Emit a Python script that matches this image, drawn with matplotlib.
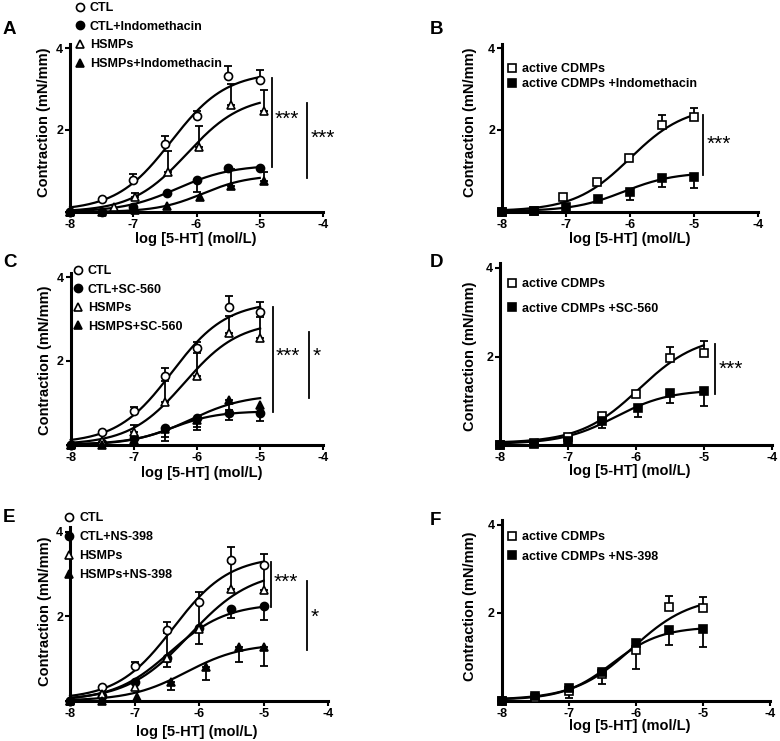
import numpy as np
import matplotlib
matplotlib.use("Agg")
import matplotlib.pyplot as plt

plt.rcParams['font.family'] = ['Liberation Sans', 'DejaVu Sans']
plt.rcParams['font.weight'] = 'bold'

# shared axis data
log_conc = [-8, -7.5, -7, -6.5, -6, -5.5, -5]
x_ticks = [-8, -7, -6, -5, -4]
x_tick_labels = ['-8', '-7', '-6', '-5', '-4']
y_ticks = [0, 2, 4]
y_tick_labels = ['', '2', '4']
x_label = 'log [5-HT] (mol/L)'
y_label = 'Contraction (mN/mm)'

# fit parameters: [bottom, top, logEC50, hill slope]
# ---- panel A ----
A_ctl_x = log_conc
A_ctl_y = [0, 0.31, 0.78, 1.66, 2.34, 3.32, 3.22]
A_ctl_up = [0, 0, 0.15, 0.19, 0.12, 0.24, 0.24]
A_ctl_dn = [0, 0, 0, 0, 0, 0, 0]
A_ctl_fit = [0.03, 3.42, -6.4, 1.0]
A_ctli_x = [-8, -7.5, -7, -6.47, -5.99, -5.5, -4.99]
A_ctli_y = [0, 0, 0.11, 0.46, 0.78, 1.08, 1.08]
A_ctli_up = [0, 0, 0, 0, 0, 0, 0]
A_ctli_dn = [0, 0, 0, 0, 0.28, 0, 0]
A_ctli_fit = [0.0, 1.15, -6.3, 1.0]
A_hs_x = [-8, -7.3, -6.97, -6.45, -5.96, -5.45, -4.93]
A_hs_y = [0, 0.13, 0.36, 0.98, 1.59, 2.61, 2.46]
A_hs_up = [0, 0, 0.11, 0.52, 0.51, 0.5, 0.52]
A_hs_dn = [0, 0, 0, 0, 0, 0, 0]
A_hs_fit = [0.0, 2.85, -6.15, 1.0]
A_hsi_x = [-8, -7.5, -6.97, -6.47, -5.95, -5.45, -4.93]
A_hsi_y = [0, 0, 0.05, 0.15, 0.37, 0.64, 0.76]
A_hsi_up = [0, 0, 0, 0, 0, 0.41, 0.21]
A_hsi_dn = [0, 0, 0, 0, 0, 0, 0]
A_hsi_fit = [0.0, 0.9, -5.9, 1.2]
A_labels = ['CTL', 'CTL+Indomethacin', 'HSMPs', 'HSMPs+Indomethacin']
A_sig_x = [-4.81, -4.25]
A_sig_top = [3.27, 2.66]
A_sig_bot = [1.10, 0.83]
A_sig_text = ['***', '***']
A_sig_ty = [2.25, 1.79]

# ---- panel B ----
B_cd_x = [-8, -7.5, -7.05, -6.51, -6.01, -5.5, -5.0]
B_cd_y = [0, 0.03, 0.37, 0.72, 1.31, 2.12, 2.31]
B_cd_up = [0, 0, 0, 0, 0, 0.25, 0.23]
B_cd_dn = [0, 0, 0, 0, 0, 0, 0]
B_cd_fit = [0.02, 2.6, -6.0, 1.0]
B_cdi_x = log_conc
B_cdi_y = [0, 0.02, 0.13, 0.31, 0.5, 0.82, 0.85]
B_cdi_up = [0, 0, 0, 0, 0, 0, 0]
B_cdi_dn = [0, 0, 0, 0, 0.21, 0.2, 0.26]
B_cdi_fit = [0.02, 0.97, -6.1, 1.1]
B_labels = ['active CDMPs', 'active CDMPs +Indomethacin']
B_sig_x = [-4.86]
B_sig_top = [2.37]
B_sig_bot = [0.9]
B_sig_text = ['***']
B_sig_ty = [1.64]

# ---- panel C ----
C_ctl_x = log_conc
C_ctl_y = [0, 0.31, 0.81, 1.64, 2.3, 3.28, 3.17]
C_ctl_up = [0, 0, 0.1, 0.18, 0.16, 0.27, 0.24]
C_ctl_dn = [0, 0, 0, 0, 0, 0, 0]
C_ctl_fit = [0.03, 3.42, -6.4, 1.0]
C_ctls_x = log_conc
C_ctls_y = [0, 0.05, 0.17, 0.41, 0.64, 0.76, 0.75]
C_ctls_up = [0, 0, 0, 0, 0, 0, 0]
C_ctls_dn = [0, 0, 0, 0.22, 0.21, 0.16, 0.18]
C_ctls_fit = [0.0, 0.8, -6.4, 1.2]
C_hs_x = log_conc
C_hs_y = [0, 0.08, 0.31, 1.03, 1.64, 2.67, 2.54]
C_hs_up = [0, 0, 0.16, 0.5, 0.55, 0.4, 0.5]
C_hs_dn = [0, 0, 0, 0, 0, 0, 0]
C_hs_fit = [0.0, 2.95, -6.2, 1.0]
C_hss_x = log_conc
C_hss_y = [0, 0, 0.12, 0.38, 0.6, 1.07, 0.95]
C_hss_up = [0, 0, 0, 0, 0, 0, 0]
C_hss_dn = [0, 0, 0, 0.3, 0.25, 0.25, 0]
C_hss_fit = [0.0, 1.2, -6.1, 1.0]
C_labels = ['CTL', 'CTL+SC-560', 'HSMPs', 'HSMPS+SC-560']
C_sig_x = [-4.80, -4.22]
C_sig_top = [3.29, 2.69]
C_sig_bot = [0.78, 1.12]
C_sig_text = ['***', '*']
C_sig_ty = [2.1, 2.1]

# ---- panel D ----
D_cd_x = log_conc
D_cd_y = [0, 0.05, 0.19, 0.66, 1.16, 1.96, 2.09]
D_cd_up = [0, 0, 0, 0, 0, 0.26, 0.27]
D_cd_dn = [0, 0, 0, 0, 0, 0, 0]
D_cd_fit = [0.05, 2.5, -5.95, 1.0]
D_cds_x = [-8, -7.5, -7, -6.5, -5.97, -5.5, -5]
D_cds_y = [0, 0.04, 0.1, 0.55, 0.83, 1.17, 1.22]
D_cds_up = [0, 0, 0, 0, 0, 0, 0]
D_cds_dn = [0, 0, 0, 0.17, 0.19, 0.21, 0.34]
D_cds_fit = [0.03, 1.25, -6.3, 1.1]
D_labels = ['active CDMPs', 'active CDMPs +SC-560']
D_sig_x = [-4.83]
D_sig_top = [2.29]
D_sig_bot = [1.16]
D_sig_text = ['***']
D_sig_ty = [1.72]

# ---- panel E ----
E_ctl_x = log_conc
E_ctl_y = [0, 0.32, 0.82, 1.67, 2.34, 3.33, 3.21]
E_ctl_up = [0, 0, 0.09, 0.2, 0.22, 0.3, 0.27]
E_ctl_dn = [0, 0, 0, 0, 0, 0, 0]
E_ctl_fit = [0.03, 3.42, -6.4, 1.0]
E_ctln_x = log_conc
E_ctln_y = [0, 0.1, 0.45, 1.02, 1.72, 2.18, 2.24]
E_ctln_up = [0, 0, 0, 0, 0, 0, 0]
E_ctln_dn = [0, 0, 0, 0, 0, 0.23, 0.33]
E_ctln_fit = [0.0, 2.3, -6.45, 1.0]
E_hs_x = log_conc
E_hs_y = [0, 0.16, 0.32, 1.0, 1.69, 2.63, 2.62]
E_hs_up = [0, 0, 0, 0.6, 0.6, 0.65, 0.55]
E_hs_dn = [0, 0, 0, 0.2, 0.35, 0, 0]
E_hs_fit = [0.0, 3.1, -6.15, 0.9]
E_hsn_x = [-8, -7.5, -6.97, -6.43, -5.9, -5.39, -4.99]
E_hsn_y = [0, 0, 0.09, 0.45, 0.8, 1.28, 1.28]
E_hsn_up = [0, 0, 0, 0, 0, 0, 0]
E_hsn_dn = [0, 0, 0, 0.2, 0.31, 0.36, 0.46]
E_hsn_fit = [0.0, 1.35, -6.2, 1.0]
E_labels = ['CTL', 'CTL+NS-398', 'HSMPs', 'HSMPs+NS-398']
E_sig_x = [-4.89, -4.33]
E_sig_top = [3.27, 2.84]
E_sig_bot = [2.21, 1.2]
E_sig_text = ['***', '*']
E_sig_ty = [2.8, 1.97]

# ---- panel F ----
F_cd_x = log_conc
F_cd_y = [0, 0.06, 0.23, 0.61, 1.15, 2.14, 2.1]
F_cd_up = [0, 0, 0, 0, 0, 0.24, 0.25]
F_cd_dn = [0, 0, 0, 0.23, 0.44, 0, 0]
F_cd_fit = [0.02, 2.38, -6.05, 1.0]
F_cdn_x = log_conc
F_cdn_y = [0, 0.11, 0.3, 0.66, 1.32, 1.61, 1.63]
F_cdn_up = [0, 0, 0, 0, 0, 0, 0]
F_cdn_dn = [0, 0, 0.24, 0, 0, 0.34, 0.4]
F_cdn_fit = [0.02, 1.68, -6.35, 1.2]
F_labels = ['active CDMPs', 'active CDMPs +NS-398']


def hill(x, p):
    bottom, top, ec50, n = p
    return bottom + (top - bottom) / (1 + 10 ** ((ec50 - x) * n))


def draw_series(ax, x, y, up, dn, fit, marker, filled, label):
    xs = np.linspace(-8, -5, 200)
    ax.plot(xs, hill(xs, fit), color='k', lw=1.6, zorder=2, clip_on=False)
    x = np.array(x, dtype=float)
    y = np.array(y, dtype=float)
    up = np.array(up, dtype=float)
    dn = np.array(dn, dtype=float)
    for err, sign in [(up, 1), (dn, -1)]:
        m = err > 0
        if m.any():
            z = np.zeros(m.sum())
            yerr = [z, err[m]] if sign > 0 else [err[m], z]
            ax.errorbar(x[m], y[m], yerr=yerr, fmt='none', ecolor='k',
                        elinewidth=1.3, capsize=3, capthick=1.3, zorder=3)
    ms = 5.8 if marker != 's' else 5.4
    h, = ax.plot(x, y, linestyle='none', marker=marker, ms=ms,
                 mfc='k' if filled else 'white', mec='k', mew=1.2,
                 label=label, zorder=4, clip_on=False)
    return h


def px_rect(left, right, bottom, top):
    return [left / 780, 1 - bottom / 741, (right - left) / 780, (bottom - top) / 741]


fig = plt.figure(figsize=(7.8, 7.41), dpi=100)

panels = [
    dict(letter='A', rect=px_rect(70, 323, 212, 43.9), letter_xy=(3, 21),
         series=[(A_ctl_x, A_ctl_y, A_ctl_up, A_ctl_dn, A_ctl_fit, 'o', False),
                 (A_ctli_x, A_ctli_y, A_ctli_up, A_ctli_dn, A_ctli_fit, 'o', True),
                 (A_hs_x, A_hs_y, A_hs_up, A_hs_dn, A_hs_fit, '^', False),
                 (A_hsi_x, A_hsi_y, A_hsi_up, A_hsi_dn, A_hsi_fit, '^', True)],
         labels=A_labels, leg_xy=(75, 2), leg_sp=0.54,
         sig=(A_sig_x, A_sig_top, A_sig_bot, A_sig_text, A_sig_ty),
         ylab=(-0.075, 0.535), xlab=(0.498, -0.12)),
    dict(letter='B', rect=px_rect(502, 758, 212, 43.9), letter_xy=(430, 21),
         series=[(B_cd_x, B_cd_y, B_cd_up, B_cd_dn, B_cd_fit, 's', False),
                 (B_cdi_x, B_cdi_y, B_cdi_up, B_cdi_dn, B_cdi_fit, 's', True)],
         labels=B_labels, leg_xy=(507, 63), leg_sp=0.24,
         sig=(B_sig_x, B_sig_top, B_sig_bot, B_sig_text, B_sig_ty),
         ylab=(-0.098, 0.535), xlab=(0.5, -0.12)),
    dict(letter='C', rect=px_rect(70.7, 323.3, 444.7, 272.9), letter_xy=(3, 254),
         series=[(C_ctl_x, C_ctl_y, C_ctl_up, C_ctl_dn, C_ctl_fit, 'o', False),
                 (C_ctls_x, C_ctls_y, C_ctls_up, C_ctls_dn, C_ctls_fit, 'o', True),
                 (C_hs_x, C_hs_y, C_hs_up, C_hs_dn, C_hs_fit, '^', False),
                 (C_hss_x, C_hss_y, C_hss_up, C_hss_dn, C_hss_fit, '^', True)],
         labels=C_labels, leg_xy=(73, 265), leg_sp=0.53,
         sig=(C_sig_x, C_sig_top, C_sig_bot, C_sig_text, C_sig_ty),
         ylab=(-0.074, 0.49), xlab=(0.52, -0.122)),
    dict(letter='D', rect=px_rect(500, 771.7, 445.3, 263.3), letter_xy=(430, 254),
         series=[(D_cd_x, D_cd_y, D_cd_up, D_cd_dn, D_cd_fit, 's', False),
                 (D_cds_x, D_cds_y, D_cds_up, D_cds_dn, D_cds_fit, 's', True)],
         labels=D_labels, leg_xy=(507, 278), leg_sp=1.0,
         sig=(D_sig_x, D_sig_top, D_sig_bot, D_sig_text, D_sig_ty),
         ylab=(-0.085, 0.49), xlab=(0.478, -0.105)),
    dict(letter='E', rect=px_rect(70, 328.3, 700.7, 527.3), letter_xy=(3, 509),
         series=[(E_ctl_x, E_ctl_y, E_ctl_up, E_ctl_dn, E_ctl_fit, 'o', False),
                 (E_ctln_x, E_ctln_y, E_ctln_up, E_ctln_dn, E_ctln_fit, 'o', True),
                 (E_hs_x, E_hs_y, E_hs_up, E_hs_dn, E_hs_fit, '^', False),
                 (E_hsn_x, E_hsn_y, E_hsn_up, E_hsn_dn, E_hsn_fit, '^', True)],
         labels=E_labels, leg_xy=(64, 512), leg_sp=0.56,
         sig=(E_sig_x, E_sig_top, E_sig_bot, E_sig_text, E_sig_ty),
         ylab=(-0.068, 0.514), xlab=(0.49, -0.14)),
    dict(letter='F', rect=px_rect(501.7, 770, 700.7, 520.3), letter_xy=(430, 512),
         series=[(F_cd_x, F_cd_y, F_cd_up, F_cd_dn, F_cd_fit, 's', False),
                 (F_cdn_x, F_cdn_y, F_cdn_up, F_cdn_dn, F_cdn_fit, 's', True)],
         labels=F_labels, leg_xy=(507, 531), leg_sp=0.61,
         sig=None,
         ylab=(-0.092, 0.525), xlab=(0.478, -0.103)),
]

for p in panels:
    ax = fig.add_axes(p['rect'])
    handles = []
    for s, lab in zip(p['series'], p['labels']):
        handles.append(draw_series(ax, *s, lab))

    ax.set_xlim(-8, -4)
    ax.set_ylim(0, 4.1)
    ax.set_xticks(x_ticks)
    ax.set_xticklabels(x_tick_labels)
    ax.set_yticks(y_ticks)
    ax.set_yticklabels(y_tick_labels)
    ax.tick_params(direction='out', length=3.5, width=1.5, labelsize=9, pad=1.5)
    for side in ['top', 'right']:
        ax.spines[side].set_visible(False)
    for side in ['left', 'bottom']:
        ax.spines[side].set_linewidth(2.2)
    ax.set_xlabel(x_label, fontsize=10.5, fontweight='bold')
    ax.set_ylabel(y_label, fontsize=10.5, fontweight='bold')
    ax.xaxis.set_label_coords(*p['xlab'])
    ax.yaxis.set_label_coords(*p['ylab'])

    lx, ly = p['leg_xy']
    ax.legend(handles=handles, loc='upper left',
              bbox_to_anchor=(lx / 780, 1 - ly / 741),
              bbox_transform=fig.transFigure, frameon=False, borderpad=0,
              borderaxespad=0, handlelength=0.8, handletextpad=0.4,
              labelspacing=p['leg_sp'], numpoints=1,
              prop={'weight': 'bold', 'size': 9})

    if p['sig'] is not None:
        sx, stop, sbot, stext, sty = p['sig']
        for x, y0, y1, t, ty in zip(sx, stop, sbot, stext, sty):
            ax.plot([x, x], [y1, y0], color='k', lw=1.3, clip_on=False)
            ax.text(x + 0.05, ty, t, fontsize=15, fontweight='normal',
                    ha='left', va='center')

    fx, fy = p['letter_xy']
    fig.text(fx / 780, 1 - fy / 741, p['letter'], fontsize=13.5,
             fontweight='bold', ha='left', va='top')

fig.savefig('out.png', dpi=100)
